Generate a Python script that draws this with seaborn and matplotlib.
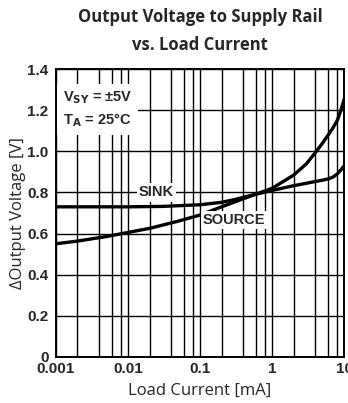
import numpy as np
import pandas as pd
import matplotlib
matplotlib.use("Agg")
import matplotlib.pyplot as plt
from matplotlib.ticker import FixedLocator, NullFormatter
import seaborn as sns

# Load current (mA) and output-voltage-to-rail (V) for each direction
source_current = [0.001, 0.002, 0.005, 0.01, 0.02, 0.05, 0.1, 0.2, 0.5, 1, 2, 3, 4, 5, 6, 7, 8, 9, 10]
source_voltage = [0.55, 0.563, 0.585, 0.605, 0.625, 0.66, 0.69, 0.73, 0.782, 0.82, 0.885,
                  0.94, 0.995, 1.04, 1.08, 1.115, 1.15, 1.2, 1.255]

sink_current = [0.001, 0.01, 0.03, 0.1, 0.2, 0.3, 0.5, 0.7, 1, 2, 3, 5, 6, 7, 8, 9, 10]
sink_voltage = [0.73, 0.73, 0.732, 0.74, 0.752, 0.765, 0.785, 0.797, 0.81, 0.833, 0.845,
                0.86, 0.866, 0.875, 0.89, 0.91, 0.93]

x_ticks = [0.001, 0.01, 0.1, 1, 10]
x_tick_labels = ["0.001", "0.01", "0.1", "1", "10"]
y_ticks = [0, 0.2, 0.4, 0.6, 0.8, 1.0, 1.2, 1.4]
y_tick_labels = ["0", "0.2", "0.4", "0.6", "0.8", "1.0", "1.2", "1.4"]

df = pd.concat([
    pd.DataFrame({"current": source_current, "voltage": source_voltage, "mode": "SOURCE"}),
    pd.DataFrame({"current": sink_current, "voltage": sink_voltage, "mode": "SINK"}),
])

sns.set_style("white")
fig = plt.figure(figsize=(3.48, 4.03), dpi=100)
ax = fig.add_axes([0.160, 0.115, 0.829, 0.713])

sns.lineplot(data=df, x="current", y="voltage", units="mode", estimator=None,
             color="black", linewidth=2.4, ax=ax, legend=False, zorder=3)

ax.set_xscale("log")
ax.set_xlim(0.001, 10)
ax.set_ylim(0, 1.4)

# Grid: decades plus 2, 4, 6, 8 within each decade; 0.2 V steps
minor = [m * d for d in [0.001, 0.01, 0.1, 1] for m in (2, 4, 6, 8)]
ax.xaxis.set_major_locator(FixedLocator(x_ticks))
ax.xaxis.set_minor_locator(FixedLocator(minor))
ax.xaxis.set_minor_formatter(NullFormatter())
ax.set_xticklabels(x_tick_labels)
ax.set_yticks(y_ticks)
ax.set_yticklabels(y_tick_labels)
ax.grid(True, which="both", axis="x", color="black", linewidth=1.0)
ax.grid(True, which="major", axis="y", color="black", linewidth=1.0)
ax.tick_params(which="both", length=0)
ax.tick_params(axis="x", pad=3.5)
ax.tick_params(axis="y", pad=5)
for lab in ax.get_xticklabels() + ax.get_yticklabels():
    lab.set_fontfamily("Liberation Sans")
    lab.set_fontweight("bold")
    lab.set_fontsize(11)
for s in ax.spines.values():
    s.set_color("black")
    s.set_linewidth(1.4)

ax.set_xlabel("Load Current [mA]", fontfamily="Open Sans", fontsize=12, labelpad=5)
ax.set_ylabel("\u0394Output Voltage [V]", fontfamily="Open Sans", fontsize=12, labelpad=1)

box = dict(facecolor="white", edgecolor="none", pad=1.5)
ax.text(0.025, 0.8, "SINK", fontfamily="Liberation Sans", fontweight="bold",
        fontsize=10.5, ha="center", va="center", bbox=box, zorder=4)
ax.text(0.297, 0.666, "SOURCE", fontfamily="Liberation Sans", fontweight="bold",
        fontsize=10.5, ha="center", va="center", bbox=box, zorder=4)
ax.text(0.00125, 1.205, "V$_{\\mathbf{SY}}$ = \u00b15V\nT$_{\\mathbf{A}}$ = 25\u00b0C",
        fontfamily="Liberation Sans", fontweight="bold", fontsize=10.5,
        ha="left", va="center", linespacing=1.45,
        bbox=dict(facecolor="white", edgecolor="none", pad=4), zorder=4)

fig.text(0.575, 0.958, "Output Voltage to Supply Rail", fontfamily="Open Sans",
         fontweight="bold", fontsize=12, ha="center", va="center")
fig.text(0.575, 0.888, "vs. Load Current", fontfamily="Open Sans",
         fontweight="bold", fontsize=12, ha="center", va="center")

fig.savefig("out.png", dpi=100)
